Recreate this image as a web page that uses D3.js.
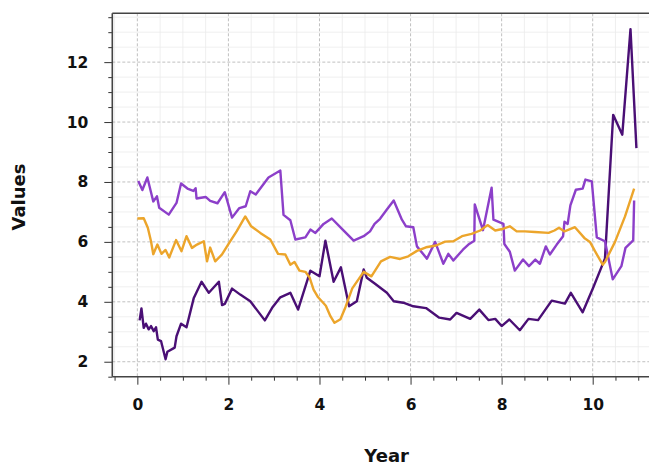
<!DOCTYPE html>
<html>
<head>
<meta charset="utf-8">
<script src="https://cdn.jsdelivr.net/npm/d3@7"></script>
<style>
html,body{margin:0;padding:0;background:#fff;}
svg{display:block;}
text{font-family:"DejaVu Sans",sans-serif;font-weight:bold;fill:#111;}
</style>
</head>
<body>
<svg id="chart" width="649" height="465"></svg>
<script>
// ---- data ----
const darkYears = [0.05,0.09,0.14,0.19,0.25,0.30,0.36,0.41,0.45,0.52,0.62,0.66,0.82,0.86,0.96,1.08,1.24,1.41,1.57,1.79,1.86,1.92,2.08,2.26,2.48,2.80,2.96,3.14,3.36,3.53,3.80,4.00,4.13,4.31,4.47,4.65,4.82,4.97,5.04,5.22,5.48,5.63,5.84,6.06,6.34,6.63,6.87,7.01,7.31,7.51,7.71,7.86,8.00,8.17,8.40,8.59,8.80,9.10,9.39,9.52,9.78,10.01,10.27,10.45,10.65,10.83,10.96];
const darkValues = [3.38,3.78,3.13,3.27,3.08,3.19,3.02,3.15,2.74,2.69,2.08,2.33,2.47,2.85,3.27,3.15,4.13,4.67,4.30,4.67,3.89,3.93,4.44,4.24,4.02,3.38,3.80,4.15,4.30,3.74,5.04,4.85,6.04,4.67,5.15,3.85,4.02,5.08,4.80,4.60,4.30,4.02,3.97,3.85,3.79,3.47,3.41,3.63,3.43,3.74,3.39,3.43,3.19,3.41,3.05,3.43,3.39,4.04,3.94,4.30,3.65,4.47,5.45,10.24,9.58,13.10,9.13];

const midYears = [0.02,0.11,0.22,0.35,0.43,0.48,0.69,0.86,0.96,1.10,1.23,1.28,1.30,1.50,1.60,1.76,1.92,2.08,2.24,2.38,2.48,2.60,2.88,3.14,3.21,3.36,3.47,3.69,3.80,3.91,4.09,4.27,4.51,4.75,4.97,5.11,5.21,5.33,5.48,5.63,5.81,5.90,6.06,6.14,6.36,6.54,6.72,6.83,6.94,7.15,7.27,7.40,7.41,7.59,7.78,7.82,8.04,8.06,8.18,8.29,8.47,8.60,8.74,8.84,8.97,9.06,9.21,9.35,9.38,9.45,9.51,9.63,9.78,9.84,9.98,10.09,10.27,10.44,10.63,10.72,10.89,10.91];
const midValues = [8.03,7.73,8.15,7.35,7.52,7.14,6.91,7.30,7.95,7.78,7.70,7.79,7.45,7.50,7.37,7.29,7.66,6.81,7.13,7.19,7.69,7.58,8.15,8.38,6.90,6.72,6.08,6.15,6.41,6.30,6.60,6.78,6.41,6.04,6.19,6.35,6.60,6.77,7.08,7.38,6.74,6.52,6.49,5.85,5.44,6.00,5.27,5.60,5.38,5.74,5.91,6.04,7.25,6.39,7.81,6.74,6.60,5.93,5.67,5.04,5.41,5.19,5.41,5.27,5.85,5.58,5.91,6.19,6.67,6.60,7.22,7.74,7.78,8.08,8.02,6.15,6.02,4.75,5.19,5.80,6.05,7.38];

const orangeYears = [0.00,0.14,0.23,0.30,0.35,0.44,0.53,0.62,0.70,0.85,0.97,1.08,1.20,1.31,1.46,1.53,1.60,1.71,1.86,2.01,2.18,2.37,2.50,2.70,2.92,3.09,3.25,3.36,3.45,3.56,3.69,3.78,3.87,3.97,4.14,4.24,4.33,4.46,4.57,4.72,4.97,5.14,5.35,5.55,5.77,5.95,6.14,6.34,6.56,6.76,6.94,7.13,7.34,7.53,7.69,7.86,8.04,8.18,8.33,8.51,8.73,9.03,9.16,9.26,9.38,9.61,9.83,9.94,10.05,10.22,10.27,10.49,10.71,10.91];
const orangeValues = [6.78,6.79,6.47,6.02,5.59,5.91,5.60,5.73,5.48,6.06,5.69,6.19,5.80,5.91,6.02,5.35,5.81,5.35,5.58,5.95,6.35,6.85,6.52,6.30,6.08,5.60,5.58,5.24,5.33,5.04,5.00,4.82,4.41,4.15,3.87,3.52,3.30,3.42,3.82,4.45,5.00,4.85,5.35,5.50,5.43,5.52,5.70,5.82,5.88,6.01,6.02,6.19,6.27,6.38,6.56,6.38,6.44,6.52,6.35,6.35,6.33,6.30,6.38,6.47,6.35,6.49,6.11,6.00,5.69,5.24,5.33,6.00,6.85,7.78];

const xTickLabels = [0,2,4,6,8,10];
const yTickLabels = [2,4,6,8,10,12];
const seriesColors = ["#4a0f75", "#8c3fc9", "#eca52b"];

// ---- layout ----
const svg = d3.select("#chart");
const L = 112.3, R = 661, T = 13.3, B = 376.7;
const x = d3.scaleLinear().domain([-0.55, 11.5]).range([L, R]);
const y = d3.scaleLinear().domain([1.5, 13.63]).range([B, T]);

const minorX = d3.range(-0.5, 11.51, 0.5).filter(v => !xTickLabels.includes(v));
const minorY = d3.range(1.5, 13.6, 0.5).filter(v => !yTickLabels.includes(v));

// minor grid
const g = svg.append("g");
g.selectAll(".mgx").data(minorX).enter().append("line")
  .attr("x1", d => x(d)).attr("x2", d => x(d)).attr("y1", T).attr("y2", B)
  .attr("stroke", "#ebebeb").attr("stroke-width", 0.8);
g.selectAll(".mgy").data(minorY).enter().append("line")
  .attr("y1", d => y(d)).attr("y2", d => y(d)).attr("x1", L).attr("x2", R)
  .attr("stroke", "#ebebeb").attr("stroke-width", 0.8);
// major grid
g.selectAll(".gx").data(xTickLabels).enter().append("line")
  .attr("x1", d => x(d)).attr("x2", d => x(d)).attr("y1", T).attr("y2", B)
  .attr("stroke", "#b0b0b0").attr("stroke-width", 0.8).attr("stroke-dasharray", "3,2");
g.selectAll(".gy").data(yTickLabels).enter().append("line")
  .attr("y1", d => y(d)).attr("y2", d => y(d)).attr("x1", L).attr("x2", R)
  .attr("stroke", "#b0b0b0").attr("stroke-width", 0.8).attr("stroke-dasharray", "3,2");

// lines
const line = d3.line().x(d => x(d[0])).y(d => y(d[1]));
const series = [
  d3.zip(darkYears, darkValues),
  d3.zip(midYears, midValues),
  d3.zip(orangeYears, orangeValues)
];
svg.append("g").selectAll("path").data(series).enter().append("path")
  .attr("d", line).attr("fill", "none")
  .attr("stroke", (d, i) => seriesColors[i])
  .attr("stroke-width", 2.4).attr("stroke-linejoin", "round");

// axes
const xAxis = d3.axisBottom(x).tickValues(xTickLabels).tickSize(8).tickPadding(14).tickFormat(d3.format("d"));
const xMinor = d3.axisBottom(x).tickValues(minorX).tickSize(4).tickFormat("");
const yAxis = d3.axisLeft(y).tickValues(yTickLabels).tickSize(8).tickPadding(16).tickFormat(d3.format("d"));
const yMinor = d3.axisLeft(y).tickValues(minorY).tickSize(4).tickFormat("");

function styleAxis(sel) {
  sel.select(".domain").remove();
  sel.selectAll("line").attr("stroke", "#333").attr("stroke-width", 1);
  sel.selectAll("text").style("font-size", "15.5px").style("font-weight", "bold").attr("fill", "#111");
}
svg.append("g").attr("transform", `translate(0,${B})`).call(xMinor).call(styleAxis);
svg.append("g").attr("transform", `translate(0,${B})`).call(xAxis).call(styleAxis);
svg.append("g").attr("transform", `translate(${L},0)`).call(yMinor).call(styleAxis);
svg.append("g").attr("transform", `translate(${L},0)`).call(yAxis).call(styleAxis);

// spines
svg.append("line").attr("x1", L).attr("x2", L).attr("y1", T).attr("y2", B).attr("stroke", "#444").attr("stroke-width", 1.6);
svg.append("line").attr("x1", L).attr("x2", R).attr("y1", B).attr("y2", B).attr("stroke", "#444").attr("stroke-width", 1.6);
svg.append("line").attr("x1", L).attr("x2", R).attr("y1", T).attr("y2", T).attr("stroke", "#444").attr("stroke-width", 1.6);

// axis titles
svg.append("text").attr("x", (L + R) / 2).attr("y", 462).attr("text-anchor", "middle")
  .style("font-size", "18px").text("Year");
svg.append("text").attr("transform", `translate(25,197) rotate(-90)`).attr("text-anchor", "middle")
  .style("font-size", "18px").text("Values");
</script>
</body>
</html>
